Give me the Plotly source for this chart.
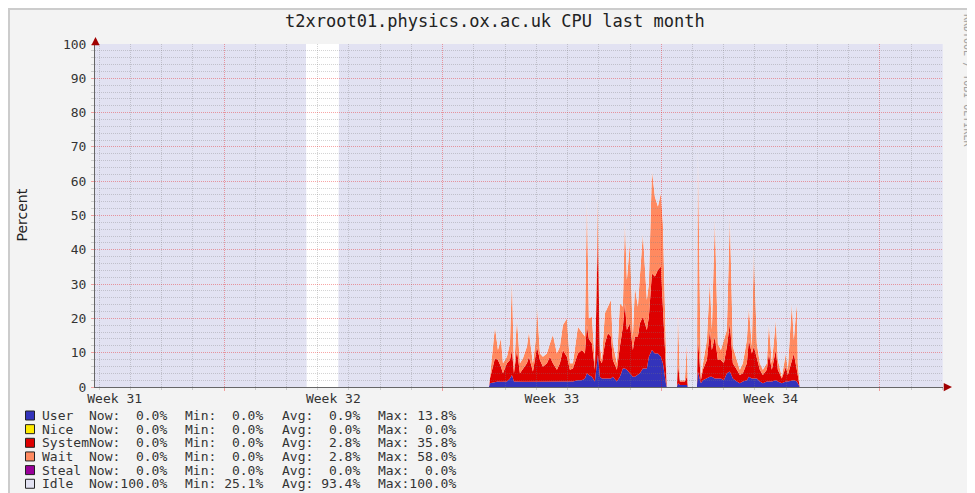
import plotly.graph_objects as go

# ---------------- data (time in days from Monday 00:00 of Week 32) ----------------
times = [
    -4.129, 2.625, 2.647, 3.659, 3.681, 8.483,
    8.515, 8.675, 8.771, 8.867, 8.931, 9.059, 9.155, 9.219, 9.283, 9.379,
    9.475, 9.571, 9.699, 9.763, 9.891, 9.987, 10.019, 10.115, 10.211, 10.339,
    10.435, 10.531, 10.659, 10.755, 10.851, 10.979, 11.075, 11.171, 11.331, 11.459,
    11.555, 11.619, 11.683, 11.779, 11.875, 11.971, 12.035, 12.099, 12.195, 12.291,
    12.387, 12.451, 12.579, 12.675, 12.771, 12.835, 12.899, 12.995, 13.091, 13.155,
    13.251, 13.315, 13.411, 13.539, 13.603, 13.700, 13.796, 13.892, 13.988, 14.052,
    14.148, 14.180, 14.500, 14.532, 14.596, 14.756, 14.820, 14.852, 15.140, 15.172,
    15.268, 15.332, 15.460, 15.556, 15.620, 15.716, 15.812, 15.908, 16.004, 16.100,
    16.196, 16.292, 16.420, 16.516, 16.612, 16.740, 16.804, 16.900, 16.964, 17.060,
    17.156, 17.252, 17.380, 17.444, 17.540, 17.668, 17.732, 17.860, 17.988, 18.052,
    18.180, 18.244, 18.340, 18.372, 18.436, 23.014,
]
user = [
    0, 0, None, None, 0, 0,
    1.1, 1.5, 1.6, 1.5, 1.6, 1.6, 2.5, 3.5, 1.6, 1.5,
    1.5, 1.5, 1.5, 1.5, 1.5, 1.5, 1.6, 1.5, 1.5, 1.5,
    1.6, 1.5, 1.5, 1.5, 1.6, 1.5, 1.5, 1.6, 2.0, 2.0,
    2.5, 4.0, 3.5, 3.0, 1.6, 9.5, 3.0, 2.5, 2.5, 2.5,
    2.5, 3.0, 1.6, 3.0, 5.4, 5.4, 5.0, 4.0, 3.0, 3.0,
    3.5, 4.0, 5.4, 5.4, 8.8, 10.8, 9.8, 9.8, 8.8, 6.9,
    1.1, 0, 0, 1.1, 0.6, 0.6, 0.6, 0, 0, 4.5,
    1.1, 2.0, 2.5, 3.0, 3.0, 2.5, 2.5, 2.5, 2.0, 4.0,
    4.5, 2.5, 1.6, 1.1, 1.6, 2.0, 3.0, 2.5, 2.5, 2.5,
    1.6, 1.1, 1.6, 1.6, 1.6, 2.0, 1.6, 1.1, 1.6, 1.6,
    2.0, 2.0, 1.6, 1.0, 0, 0,
]
system = [
    0, 0, None, None, 0, 0,
    1.4, 6.9, 6.3, 4.4, 2.4, 5.3, 5.4, 7.3, 2.4, 9.3,
    2.5, 3.9, 5.4, 7.3, 3.0, 8.3, 10.2, 6.4, 4.4, 5.4,
    7.2, 5.4, 3.5, 5.4, 9.2, 7.3, 3.5, 3.8, 7.8, 8.8,
    7.3, 14.0, 10.5, 9.7, 3.4, 35.5, 5.0, 4.4, 10.2, 13.2,
    12.2, 4.9, 3.4, 8.8, 12.2, 19.0, 11.6, 14.6, 7.8, 11.7,
    11.2, 14.6, 15.1, 11.2, 11.7, 22.3, 22.4, 24.3, 26.3, 16.5,
    3.9, 0, 0, 5.8, 1.0, 1.0, 2.4, 0, 0, 10.0,
    0.9, 3.0, 5.4, 13.6, 7.8, 12.2, 5.4, 5.4, 4.9, 7.8,
    14.1, 4.4, 3.4, 2.4, 2.4, 4.9, 10.7, 7.3, 9.3, 5.4,
    3.4, 2.4, 3.4, 8.2, 3.4, 8.8, 3.4, 1.4, 4.3, 1.9,
    5.9, 7.8, 3.4, 2.0, 0, 0,
]
wait = [
    0, 0, None, None, 0, 0,
    0.5, 9.2, 2.9, 8.3, 2.9, 1.9, 4.8, 21.4, 1.0, 9.2,
    2.9, 3.0, 4.9, 7.3, 2.4, 4.4, 12.1, 1.9, 2.9, 2.9,
    3.9, 8.3, 4.8, 4.9, 7.3, 11.2, 1.9, 1.5, 7.8, 5.3,
    4.9, 37.5, 6.0, 7.8, 1.9, 11.9, 4.0, 1.0, 8.8, 7.7,
    10.7, 4.8, 1.9, 12.6, 5.8, 24.3, 14.6, 23.3, 3.9, 14.5,
    8.7, 13.6, 24.3, 8.8, 9.7, 30.2, 23.3, 18.5, 21.4, 24.3,
    1.9, 0, 0, 16.5, 0.4, 0.4, 9.7, 0, 0, 55.6,
    1.0, 1.9, 5.8, 14.6, 5.8, 35.0, 4.8, 2.9, 6.8, 4.8,
    31.5, 4.9, 2.9, 1.5, 2.9, 6.8, 9.7, 2.0, 28.1, 4.8,
    1.9, 1.5, 1.9, 8.8, 1.9, 8.7, 2.9, 0.5, 3.9, 1.5,
    16.5, 3.9, 19.4, 3.9, 0, 0,
]
assert len(times) == len(user) == len(system) == len(wait)

# idle is the remainder of 100 %; unknown (None) where no data was collected
idle = [None if u is None else round(100 - u - s - w, 1)
        for u, s, w in zip(user, system, wait)]

x_range = [-4.13, 23.02]
week_label_pos = [-3.5, 3.5, 10.5, 17.5]
week_labels = ["Week 31", "Week 32", "Week 33", "Week 34"]

legend_names = ["User", "Nice", "System", "Wait", "Steal", "Idle"]
legend_colors = ["#3333bb", "#ffea00", "#dd0000", "#ff8a60", "#990099", "#e2e2f2"]
stat_now = [0.0, 0.0, 0.0, 0.0, 0.0, 100.0]
stat_min = [0.0, 0.0, 0.0, 0.0, 0.0, 25.1]
stat_avg = [0.9, 0.0, 2.8, 2.8, 0.0, 93.4]
stat_max = [13.8, 0.0, 35.8, 58.0, 0.0, 100.0]

TITLE = "t2xroot01.physics.ox.ac.uk CPU last month"

# ---------------- layout helpers (screen pixels; page has an 8px body margin) ----------------
W, H = 975, 493
OFF = 8
PL, PR, PT, PB = 95, 943, 44, 387   # plot area in screen pixels


def px2x(px):
    return (px - PL) / (PR - PL)


def py2y(py):
    return (PB - py) / (PB - PT)


MONO = "DejaVu Sans Mono"
TXT = "#333333"
GRID = "rgba(120,120,120,0.32)"
MGRID = "rgba(235,0,0,0.35)"
DASH = "1px,1px"

fig = go.Figure()

series = [("User", user, "#3333bb"), ("System", system, "#dd0000"),
          ("Wait", wait, "#ff8a60"), ("Idle", idle, "#e2e2f2")]
for name, vals, col in series:
    fig.add_trace(go.Scatter(
        x=times, y=[0 if v is None else v for v in vals], name=name,
        mode="lines", line=dict(width=0, color=col), fill="tonexty",
        fillcolor=col, stackgroup="cpu", showlegend=False, hoverinfo="skip",
        xaxis="x", yaxis="y"))

# empty trace creating the grid/axis subplot drawn on top of the areas
fig.add_trace(go.Scatter(x=[], y=[], xaxis="x2", yaxis="y2", showlegend=False))

annotations = []
shapes = []

# title, axis title, watermark
annotations.append(dict(text=TITLE, x=px2x(495), y=py2y(21), xref="paper", yref="paper",
                        showarrow=False, font=dict(family=MONO, size=17, color="#222"),
                        xanchor="center", yanchor="middle"))
annotations.append(dict(text="Percent", x=px2x(21), y=py2y(215.5), xref="paper", yref="paper",
                        showarrow=False, textangle=-90,
                        font=dict(family="DejaVu Sans", size=14, color="#222"),
                        xanchor="center", yanchor="middle"))
annotations.append(dict(text="RRDTOOL / TOBI OETIKER", x=px2x(968), y=py2y(80),
                        xref="paper", yref="paper", showarrow=False, textangle=90,
                        font=dict(family=MONO, size=10, color="#a0a0a0"),
                        xanchor="center", yanchor="middle"))

# axis arrows
annotations.append(dict(text="", x=px2x(95.5), y=py2y(37), xref="paper", yref="paper",
                        showarrow=True, ax=0, ay=9, arrowhead=2, arrowsize=1.1,
                        arrowwidth=1.5, arrowcolor="#a00000"))
annotations.append(dict(text="", x=px2x(952), y=py2y(387), xref="paper", yref="paper",
                        showarrow=True, ax=-9, ay=0, arrowhead=2, arrowsize=1.1,
                        arrowwidth=1.5, arrowcolor="#a00000"))

# legend rows
row0, row_step = 415.5, 13.65
col_px = [41, 88, 184, 281, 377]
for i, name in enumerate(legend_names):
    yc = row0 + i * row_step
    shapes.append(dict(type="rect", xref="paper", yref="paper",
                       x0=px2x(25.5), x1=px2x(34.5), y0=py2y(yc + 4.5), y1=py2y(yc - 4.5),
                       fillcolor=legend_colors[i], line=dict(color="#222", width=1)))
    texts = [name,
             "Now:%5.1f%%" % stat_now[i],
             "Min:%5.1f%%" % stat_min[i],
             "Avg:%5.1f%%" % stat_avg[i],
             "Max:%5.1f%%" % stat_max[i]]
    for cx, t in zip(col_px, texts):
        annotations.append(dict(text=t.replace(" ", "&nbsp;"), x=px2x(cx), y=py2y(yc),
                                xref="paper", yref="paper", showarrow=False,
                                xanchor="left", yanchor="middle", borderpad=0,
                                font=dict(family=MONO, size=13, color=TXT)))

# grey 3D-border line at the image top / left, white canvas under the plot
shapes.append(dict(type="rect", xref="paper", yref="paper", layer="below",
                   x0=px2x(OFF), x1=px2x(W + 20), y0=py2y(OFF + 2), y1=py2y(OFF),
                   fillcolor="#cccccc", line=dict(width=0)))
shapes.append(dict(type="rect", xref="paper", yref="paper", layer="below",
                   x0=px2x(OFF), x1=px2x(OFF + 2), y0=py2y(H + 20), y1=py2y(OFF),
                   fillcolor="#cccccc", line=dict(width=0)))
shapes.append(dict(type="rect", xref="paper", yref="paper", layer="below",
                   x0=0, x1=1, y0=0, y1=1, fillcolor="white", line=dict(width=0)))

fig.update_layout(
    width=W, height=H, autosize=False,
    margin=dict(l=PL - OFF, r=W - (PR - OFF), t=PT - OFF, b=H - (PB - OFF), pad=0),
    paper_bgcolor="#f3f3f3", plot_bgcolor="rgba(0,0,0,0)",
    showlegend=False,
    xaxis=dict(domain=[0, 1], anchor="y", range=x_range, tickmode="array",
               tickvals=week_label_pos, ticktext=week_labels, ticks="",
               ticklabelstandoff=2,
               showgrid=False, zeroline=False, showline=False,
               tickfont=dict(family=MONO, size=13, color=TXT)),
    yaxis=dict(domain=[0, 1], anchor="x", range=[0, 100], visible=False),
    xaxis2=dict(domain=[0, 1], anchor="y2", range=x_range, tick0=0, dtick=7,
                showticklabels=False, ticks="outside", ticklen=3, tickcolor=MGRID,
                showgrid=True, gridcolor=MGRID, griddash=DASH, gridwidth=1,
                zeroline=False, showline=True, linecolor="#666", linewidth=1,
                minor=dict(tick0=0, dtick=1, showgrid=True, gridcolor=GRID,
                           griddash=DASH, ticks="outside", ticklen=2, tickcolor=GRID)),
    yaxis2=dict(domain=[0, 1], anchor="x2", range=[0, 100], tick0=0, dtick=10,
                showticklabels=True, tickfont=dict(family=MONO, size=13, color=TXT),
                ticklabelstandoff=2,
                ticks="outside", ticklen=3, tickcolor=MGRID,
                showgrid=True, gridcolor=MGRID, griddash=DASH, gridwidth=1,
                zeroline=False, showline=True, linecolor="#666", linewidth=1,
                minor=dict(tick0=0, dtick=2, showgrid=True, gridcolor=GRID,
                           griddash=DASH, ticks="outside", ticklen=3, tickcolor=GRID)),
    annotations=annotations,
    shapes=shapes,
)

# keep the page free of scrollbars (the figure slightly overflows the window)
fig.write_html("out.html",
               post_script="document.documentElement.style.overflow='hidden';")
